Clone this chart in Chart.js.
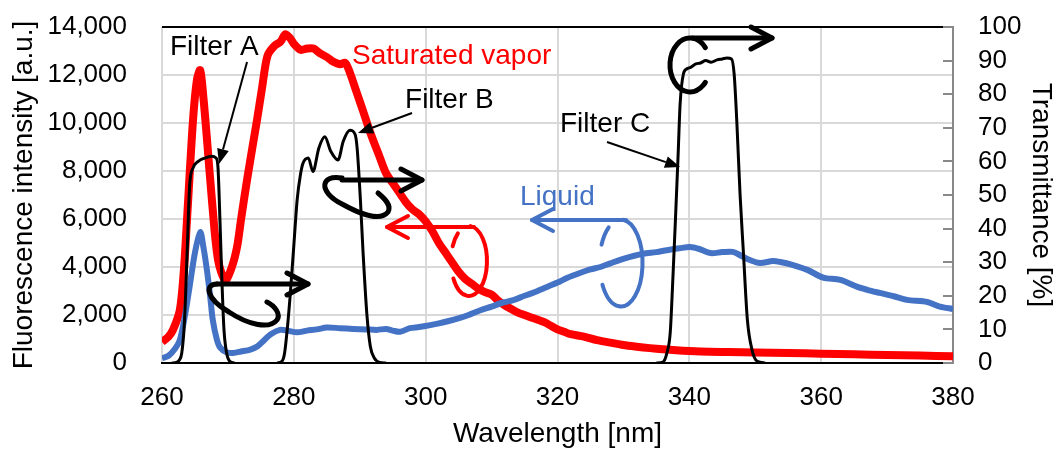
<!DOCTYPE html>
<html><head><meta charset="utf-8">
<script src="https://cdn.jsdelivr.net/npm/chart.js@4"></script>
<style>html,body{margin:0;padding:0;background:#fff}canvas{display:block}</style>
</head><body>
<canvas id="c" width="1064" height="451"></canvas>
<script>
// ---- Data ----
const xTicks = [260, 280, 300, 320, 340, 360, 380];
const yTicksLeft = [0, 2000, 4000, 6000, 8000, 10000, 12000, 14000];
const yTicksRight = [0, 10, 20, 30, 40, 50, 60, 70, 80, 90, 100];

const vaporWl = [260,261,261.7,262.7,263.3,263.8,264.7,265.3,265.8,266.3,266.8,267.6,268.5,269.6,270.6,271.4,272,273,274.4,275.2,276,277,278,278.7,279.4,280,281,282,283,284,285,286,287,287.8,288.5,289.5,290.5,291.6,293,294,295,296,297,298,299,300,301,302,303,304,305,306,307,308,309,310,311,312,313,314,315,316,317,318,319,320,321,322,324,326,328,330,332,334,336,338,340,343,346,350,355,360,365,370,375,380];
const vaporI = [875,1100,1400,2200,3800,6000,10100,11800,12200,11000,9400,6700,4300,3450,4000,4850,6000,7800,10100,11500,12800,13200,13400,13700,13550,13300,13050,13100,13100,12900,12750,12550,12450,12500,12100,11300,10500,9600,8600,7900,7500,7100,6700,6400,6200,5900,5500,5000,4600,4200,3800,3500,3300,3100,2950,2850,2600,2400,2250,2100,2000,1900,1800,1700,1550,1400,1300,1200,1100,950,850,750,680,620,570,530,500,470,460,440,420,390,360,330,310,280];

const liquidWl = [260,261,262,262.7,263.5,264.2,265,265.8,266.3,266.8,267.3,267.7,268.3,268.8,269.8,270.8,272,273.4,274.5,275.5,276.5,277.9,279,280.5,282,283.5,285,287,289,291,292.6,294,295,296.1,297.6,299,300.7,302,303.5,305.2,306.5,308.3,310,311.5,313.3,315,316.5,318.4,320,321.5,323.4,325,326.5,328,329.5,331,333,335,336.6,338.5,340.1,341.5,343.2,345,346.6,348,349.2,350.7,352.7,353.8,355.5,357.9,360.3,362.9,365.5,367,368.9,371,373,376.1,378,380];
const liquidI = [200,300,600,950,2000,3200,4600,5450,4800,3900,2800,1800,1000,650,450,420,480,560,700,950,1200,1380,1350,1280,1350,1400,1480,1450,1420,1400,1380,1420,1350,1300,1450,1500,1580,1650,1750,1880,2000,2200,2350,2500,2620,2800,2950,3170,3350,3550,3750,3900,4000,4150,4300,4420,4550,4620,4700,4780,4830,4750,4580,4620,4630,4450,4290,4170,4250,4210,4100,3880,3560,3460,3170,3050,2920,2780,2630,2540,2350,2250];

const filterAWl = [261.5,262.2,262.6,263,263.4,263.8,264.2,264.7,265.5,266.5,267.5,268.2,268.5,268.8,269.1,269.4,269.8,270.3,271];
const filterAT  = [0,0.2,0.8,3,12,32,53,58,60,61,61.5,61,58,42,24,10,3,0.5,0];

const filterBWl = [277.5,278.2,278.6,279,279.4,280,280.5,281,281.4,282.2,282.9,283.8,284.7,285.6,286.7,287.5,288.5,289.3,289.6,290.1,290.5,291.1,291.6,292.2,293,294];
const filterBT  = [0,0.5,3,10,19,35,48.5,56,59.5,61,57,64,67.3,63,60.4,66,69.3,68,64,48.5,33,14,5,1.5,0.2,0];

const filterCWl = [335,336,336.6,337.1,337.5,337.9,338.3,338.6,339.1,339.6,340.2,341,341.7,342.5,343.3,344.2,345,345.7,346.4,346.8,347.2,347.7,348.2,348.8,349.5,350.3,351.5];
const filterCT  = [0,0.3,3,9,25,43,62,77,86,87.5,88,89,89.3,90,89.5,90.2,90.5,90.8,90.5,86,72,50,33,13,4,0.5,0];

const zip = (xs, ys) => xs.map((x, i) => ({x, y: ys[i]}));

// ---- Style ----
const FONT = "'Liberation Sans', Arial, sans-serif";
const RED = '#FF0000', BLUE = '#4472C4', BLACK = '#000000', GRID = '#D9D9D9';
Chart.defaults.font.family = FONT;
Chart.defaults.color = '#000';

function filterDs(label, wl, t) {
  return {label, data: zip(wl, t), yAxisID: 'y2', borderColor: BLACK, borderWidth: 3,
          pointRadius: 0, cubicInterpolationMode: 'monotone', fill: false};
}

// ---- Annotation plugin (anchored in data coordinates) ----
function chevron(ctx, tx, ty, dir) {
  ctx.beginPath();
  ctx.moveTo(tx - dir * 21, ty - 11); ctx.lineTo(tx, ty); ctx.lineTo(tx - dir * 21, ty + 11);
  ctx.stroke();
}
function pointer(ctx, x1, y1, x2, y2) {
  const a = Math.atan2(y2 - y1, x2 - x1), L = 15, W = 6;
  const bx = x2 - L * Math.cos(a), by = y2 - L * Math.sin(a);
  ctx.lineWidth = 2; ctx.strokeStyle = BLACK; ctx.fillStyle = BLACK;
  ctx.beginPath(); ctx.moveTo(x1, y1); ctx.lineTo(bx, by); ctx.stroke();
  ctx.beginPath(); ctx.moveTo(x2, y2);
  ctx.lineTo(bx + W * Math.sin(a), by - W * Math.cos(a));
  ctx.lineTo(bx - W * Math.sin(a), by + W * Math.cos(a));
  ctx.closePath(); ctx.fill();
}
const rad = d => d * Math.PI / 180;

const decor = {
  id: 'decor',
  afterDatasetsDraw(chart) {
    const {ctx, chartArea: ca, scales} = chart;
    const X = v => scales.x.getPixelForValue(v);
    const Y = v => scales.y.getPixelForValue(v);
    const Y2 = v => scales.y2.getPixelForValue(v);
    ctx.save();
    // top border
    ctx.strokeStyle = BLACK; ctx.lineWidth = 2;
    ctx.beginPath(); ctx.moveTo(ca.left, ca.top); ctx.lineTo(ca.right, ca.top); ctx.stroke();
    // right axis inner ticks
    ctx.strokeStyle = '#898989'; ctx.lineWidth = 2;
    yTicksRight.forEach(v => {
      const y = Math.round(Y2(v));
      ctx.beginPath(); ctx.moveTo(ca.right - 10, y); ctx.lineTo(ca.right, y); ctx.stroke();
    });

    // texts
    ctx.font = '28px ' + FONT; ctx.textAlign = 'left'; ctx.textBaseline = 'alphabetic';
    ctx.fillStyle = BLACK;
    ctx.fillText('Filter A', X(261.21), Y(12833));
    ctx.fillText('Filter B', X(296.87), Y(10625));
    ctx.fillText('Filter C', X(320.38), Y(9625));
    ctx.fillStyle = RED; ctx.fillText('Saturated vapor', X(288.83), Y(12458));
    ctx.fillStyle = BLUE; ctx.fillText('Liquid', X(314.31), Y(6583));

    // label pointers
    pointer(ctx, X(272.9), Y(12542), X(268.65), Y(8292));
    pointer(ctx, X(297.93), Y(10417), X(289.74), Y(9583));
    pointer(ctx, X(327.51), Y(9208), X(338.59), Y(8167));

    ctx.lineCap = 'round'; ctx.lineJoin = 'round';
    // curl A (right axis)
    ctx.strokeStyle = BLACK; ctx.lineWidth = 5;
    let ax = X(268.34), ay = Y(3292);
    ctx.beginPath(); ctx.moveTo(ax, ay); ctx.lineTo(X(282.15), ay); ctx.stroke();
    chevron(ctx, X(282.15), ay, 1);
    ctx.beginPath(); ctx.moveTo(ax, ay);
    ctx.bezierCurveTo(ax - 12, ay, ax - 12, ay + 14, ax + 12, ay + 28);
    ctx.bezierCurveTo(ax + 30, ay + 40, ax + 52, ay + 46, ax + 60, ay + 36);
    ctx.bezierCurveTo(ax + 64, ay + 30, ax + 58, ay + 22, ax + 50, ay + 18);
    ctx.stroke();
    // curl B (right axis)
    ax = X(287.31); ay = Y(7625);
    ctx.beginPath(); ctx.moveTo(ax, ay); ctx.lineTo(X(299.44), ay); ctx.stroke();
    chevron(ctx, X(299.44), ay, 1);
    ctx.beginPath(); ctx.moveTo(ax, ay - 2);
    ctx.bezierCurveTo(ax - 22, ay - 6, ax - 24, ay + 12, ax, ay + 24);
    ctx.bezierCurveTo(ax + 16, ay + 33, ax + 38, ay + 42, ax + 46, ay + 32);
    ctx.bezierCurveTo(ax + 50, ay + 25, ax + 42, ay + 18, ax + 36, ay + 13);
    ctx.stroke();
    // curl C (right axis)
    let cx = X(340.1), cy = Y(12417);
    ctx.beginPath(); ctx.ellipse(cx, cy, 20, 27, 0, rad(-40), rad(40), true); ctx.stroke();
    ctx.beginPath(); ctx.moveTo(cx + 3, cy - 27); ctx.lineTo(X(352.54), cy - 27); ctx.stroke();
    chevron(ctx, X(352.54), cy - 27, 1);

    // red curl (left axis)
    ctx.strokeStyle = RED; ctx.lineWidth = 4;
    cx = X(306.57); cy = Y(4250);
    ctx.beginPath(); ctx.ellipse(cx, cy, 18, 35, 0, rad(-85), rad(150)); ctx.stroke();
    ctx.beginPath(); ctx.ellipse(cx, cy, 18, 35, 0, rad(205), rad(232)); ctx.stroke();
    ctx.beginPath(); ctx.moveTo(cx + 5, cy - 34); ctx.lineTo(X(294.13), cy - 34); ctx.stroke();
    chevron(ctx, X(294.13), cy - 34, -1);
    // blue curl (left axis)
    ctx.strokeStyle = BLUE;
    cx = X(329.64); cy = Y(4167);
    ctx.beginPath(); ctx.ellipse(cx, cy, 21.5, 43.5, 0, rad(-85), rad(150)); ctx.stroke();
    ctx.beginPath(); ctx.ellipse(cx, cy, 21.5, 43.5, 0, rad(205), rad(235)); ctx.stroke();
    ctx.beginPath(); ctx.moveTo(cx + 5, cy - 43); ctx.lineTo(X(316.13), cy - 43); ctx.stroke();
    chevron(ctx, X(316.13), cy - 43, -1);
    ctx.restore();
  }
};

const fitY = w => s => { s.width = w; s.paddingTop = 0; s.paddingBottom = 0; };

new Chart(document.getElementById('c'), {
  type: 'line',
  data: {
    datasets: [
      filterDs('Filter A', filterAWl, filterAT),
      filterDs('Filter B', filterBWl, filterBT),
      filterDs('Filter C', filterCWl, filterCT),
      {label: 'Liquid', data: zip(liquidWl, liquidI), yAxisID: 'y', borderColor: BLUE, borderWidth: 6,
       pointRadius: 0, tension: 0.3, fill: false},
      {label: 'Saturated vapor', data: zip(vaporWl, vaporI), yAxisID: 'y', borderColor: RED, borderWidth: 8,
       pointRadius: 0, tension: 0.3, fill: false}
    ]
  },
  options: {
    responsive: false, animation: false, devicePixelRatio: 1,
    layout: {padding: {top: 27, left: 0, right: 0, bottom: 0}},
    plugins: {legend: {display: false}, tooltip: {enabled: false}},
    scales: {
      x: {
        type: 'linear', min: 260, max: 380,
        afterBuildTicks: s => { s.ticks = xTicks.map(v => ({value: v})); },
        afterFit: s => { s.height = 88; s.paddingLeft = 0; s.paddingRight = 0; },
        ticks: {font: {size: 26}, padding: 19, maxRotation: 0, autoSkip: false},
        grid: {color: GRID, lineWidth: 2, drawTicks: false},
        border: {color: BLACK, width: 2},
        title: {display: true, text: 'Wavelength [nm]', font: {size: 28}, padding: {top: 0, bottom: 0}}
      },
      y: {
        position: 'left', min: 0, max: 14000,
        afterBuildTicks: s => { s.ticks = yTicksLeft.map(v => ({value: v})); },
        afterFit: fitY(162),
        ticks: {font: {size: 26}, padding: 35, autoSkip: false, callback: v => v.toLocaleString('en-US')},
        grid: {color: GRID, lineWidth: 2, drawTicks: false},
        border: {display: false},
        title: {display: true, text: 'Fluorescence intensity [a.u.]', font: {size: 28}, padding: {top: 7, bottom: 0}}
      },
      y2: {
        position: 'right', min: 0, max: 100,
        afterBuildTicks: s => { s.ticks = yTicksRight.map(v => ({value: v})); },
        afterFit: fitY(111),
        ticks: {font: {size: 26}, padding: 25, autoSkip: false},
        grid: {drawOnChartArea: false, drawTicks: false},
        border: {color: '#898989', width: 2},
        title: {display: true, text: 'Transmittance [%]', font: {size: 28}, padding: {top: 6, bottom: 0}}
      }
    }
  },
  plugins: [decor]
});
</script>
</body></html>
